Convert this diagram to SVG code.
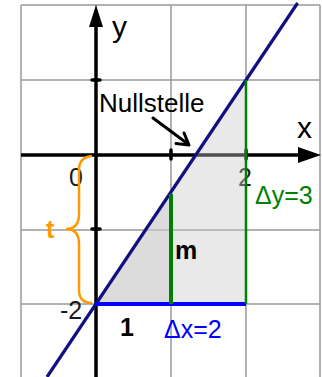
<svg xmlns="http://www.w3.org/2000/svg" width="322" height="377" viewBox="0 0 322 377">
<style>
text{font-family:"Liberation Sans",Arial,sans-serif}
.grid{stroke:#999;stroke-width:1.5;fill:none}
.axis{stroke:#000;stroke-width:3.5;fill:none}
.tick{stroke:#000;stroke-width:3.5;stroke-linecap:round}
.shade{fill:rgb(200,200,200);fill-opacity:0.4;stroke:none}
.num{font-size:25px;fill:#1a1a1a}
.lbl{font-size:30px;fill:#000}
.bold{font-weight:bold;font-size:25px}
.delta{font-size:25px}
</style>
<rect x="0" y="0" width="322" height="377" fill="#fff"/>
<g id="grid" class="grid">
<path d="M21,5V377M96,5V377M171,5V377M246,5V377M320,5V377M21,5H320M21,80H320M21,155H320M21,230H320M21,304H320"/>
</g>
<g id="axes">
<line class="axis" x1="21" y1="155" x2="300" y2="155"/>
<polygon points="321,155 298,147 298,163" fill="#000"/>
<line class="axis" x1="96" y1="377" x2="96" y2="24"/>
<polygon points="96,5 89,27 103,27" fill="#000"/>
<line class="tick" x1="92" y1="80" x2="100" y2="80"/>
<line class="tick" x1="92" y1="229" x2="100" y2="229"/>
<line class="tick" x1="171" y1="150" x2="171" y2="159"/>
<line class="tick" x1="246" y1="150" x2="246" y2="159"/>
<text id="lbl-y" class="lbl" x="112" y="37">y</text>
<text id="lbl-x" class="lbl" x="297" y="138">x</text>
<text id="lbl-0" class="num" x="69" y="186">0</text>
<text id="lbl-2" class="num" x="238" y="186">2</text>
<text id="lbl-m2" class="num" x="60" y="319">-2</text>
</g>
<g id="triangle">
<polygon class="shade" points="96,304 246,304 246,80"/>
<polygon class="shade" points="96,304 171,304 171,192"/>
</g>
<g id="connectors">
<line id="line-f" x1="47" y1="377" x2="297.6" y2="3" stroke="#101080" stroke-width="3.2"/>
<line id="dx" x1="96" y1="304" x2="246" y2="304" stroke="#0000ff" stroke-width="4"/>
<line id="dy" x1="246" y1="80" x2="246" y2="304" stroke="#008000" stroke-width="2.5"/>
<line id="m-seg" x1="171" y1="194" x2="171" y2="304" stroke="#008000" stroke-width="4"/>
<path id="brace" d="M92,156 Q79,157 79,170 L79,214 Q79,229 66,229 Q79,229 79,244 L79,290 Q79,303 92,303" fill="none" stroke="#ff9900" stroke-width="2.5"/>
<g id="null-arrow" stroke="#000" stroke-width="3" fill="none" stroke-linecap="round" stroke-linejoin="round">
<line x1="153" y1="118" x2="188" y2="144"/>
<polyline points="184,133 189,145 176,143.5"/>
</g>
</g>
<g id="labels">
<text id="nullstelle" x="99" y="112" font-size="26" fill="#000">Nullstelle</text>
<text id="t" class="bold" x="46" y="238" fill="#ff9900" font-size="24">t</text>
<text id="m" class="bold" x="175" y="259" fill="#000">m</text>
<text id="one" class="bold" x="120" y="336" fill="#000">1</text>
<text id="dx-lbl" class="delta" x="164" y="338" fill="#0000ff">Δx=2</text>
<text id="dy-lbl" class="delta" x="255" y="204" fill="#008000">Δy=3</text>
</g>
</svg>
